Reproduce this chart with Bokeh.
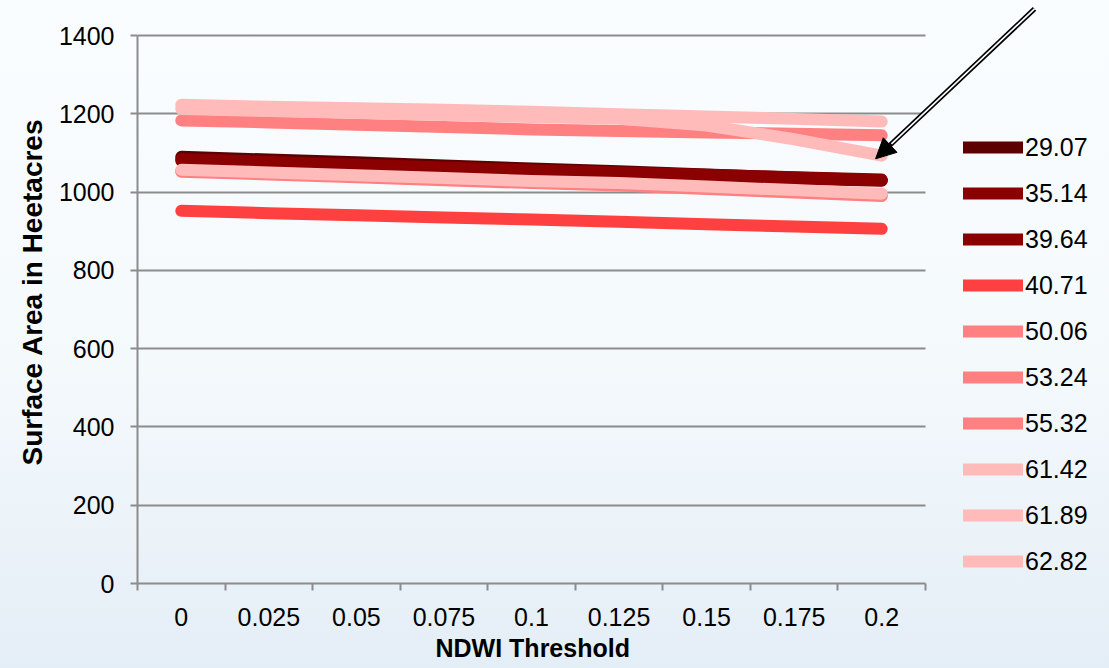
from bokeh.plotting import figure
from bokeh.models import Range1d, FixedTicker, Legend, LegendItem, Arrow, NormalHead, Title
from bokeh.embed import file_html
from bokeh.resources import INLINE

# NDWI threshold categories on the x axis
thresholds = ["0", "0.025", "0.05", "0.075", "0.1", "0.125", "0.15", "0.175", "0.2"]

# series names (legend labels) and their colours
series_names = ["29.07", "35.14", "39.64", "40.71", "50.06",
                "53.24", "55.32", "61.42", "61.89", "62.82"]
series_colors = ["#5c0000", "#8b0000", "#8b0000", "#ff4040", "#ff8080",
                 "#ff8080", "#ff8080", "#ffbaba", "#ffbaba", "#ffbaba"]

# surface area (hectacres) per threshold for each series
s_29_07 = [1090, 1083, 1076, 1068, 1060, 1053, 1045, 1037, 1030]
s_35_14 = [1084, 1077, 1070, 1063, 1056, 1050, 1044, 1038, 1032]
s_39_64 = [1080, 1073, 1066, 1059, 1052, 1046, 1040, 1034, 1029]
s_40_71 = [952, 946, 941, 935, 930, 924, 918, 912, 906]
s_50_06 = [1183, 1178, 1172, 1166, 1160, 1156, 1152, 1149, 1145]
s_53_24 = [1054, 1047, 1040, 1032, 1025, 1019, 1010, 1001, 992]
s_55_32 = [1052, 1045, 1038, 1030, 1023, 1017, 1008, 999, 990]
s_61_42 = [1057, 1050, 1043, 1036, 1028, 1023, 1014, 1005, 996]
s_61_89 = [1212, 1207, 1202, 1197, 1192, 1187, 1170, 1135, 1093]
s_62_82 = [1223, 1218, 1214, 1210, 1205, 1199, 1193, 1187, 1180]

series_values = [s_29_07, s_35_14, s_39_64, s_40_71, s_50_06,
                 s_53_24, s_55_32, s_61_42, s_61_89, s_62_82]

y_ticks = [0, 200, 400, 600, 800, 1000, 1200, 1400]

FONT = "Liberation Sans"
AXIS_GRAY = "#8c8c8c"

xs = list(range(len(thresholds)))
x_lo, x_hi = -0.5, len(thresholds) - 0.5
y_lo, y_hi = y_ticks[0], y_ticks[-1]

# The frame reaches the right and top edges so that the legend and the
# arrow, which sit outside the axes box, are not clipped; axes and grid
# are bounded to the data box instead.
p = figure(width=1109, height=668, output_backend="svg", toolbar_location=None,
           x_range=Range1d(x_lo, x_lo + (x_hi - x_lo) * 972 / 788),
           y_range=Range1d(y_lo, y_lo + (y_hi - y_lo) * 583 / 548),
           min_border_left=137, min_border_right=0,
           min_border_top=0, min_border_bottom=85)
p.background_fill_color = None
p.border_fill_color = None
p.outline_line_color = None

renderers = []
for vals, col in zip(series_values, series_colors):
    r = p.line(xs, vals, line_width=12, line_color=col,
               line_cap="round", line_join="round")
    renderers.append(r)

# x axis: labels centred in each category slot, tick marks between slots
xax = p.xaxis[0]
xax.bounds = (x_lo, x_hi)
xax.ticker = FixedTicker(ticks=xs, minor_ticks=[i - 0.5 for i in range(len(xs) + 1)])
xax.major_label_overrides = {i: t for i, t in enumerate(thresholds)}
xax.major_tick_out = 0
xax.major_tick_in = 0
xax.minor_tick_out = 7
xax.minor_tick_in = 0
xax.minor_tick_line_color = AXIS_GRAY
xax.minor_tick_line_width = 2
xax.axis_line_color = AXIS_GRAY
xax.axis_line_width = 2
xax.major_label_text_font = FONT
xax.major_label_text_font_size = "25px"
xax.major_label_text_color = "black"
xax.major_label_standoff = 17

# x axis title, centred under the bounded axis rather than the wider frame
x_title = Title(text="NDWI Threshold", align="left", offset=298,
                text_font=FONT, text_font_style="bold", text_font_size="25px",
                text_color="black", standoff=7)
p.add_layout(x_title, "below")

yax = p.yaxis[0]
yax.bounds = (y_lo, y_hi)
yax.ticker = FixedTicker(ticks=y_ticks)
yax.major_tick_out = 7
yax.major_tick_in = 0
yax.minor_tick_out = 0
yax.minor_tick_in = 0
yax.major_tick_line_color = AXIS_GRAY
yax.major_tick_line_width = 2
yax.axis_line_color = AXIS_GRAY
yax.axis_line_width = 2
yax.major_label_text_font = FONT
yax.major_label_text_font_size = "25px"
yax.major_label_text_color = "black"
yax.major_label_standoff = 16
yax.axis_label = "Surface Area in Heetacres"
yax.axis_label_text_font = FONT
yax.axis_label_text_font_style = "bold"
yax.axis_label_text_font_size = "28px"
yax.axis_label_text_color = "black"
yax.axis_label_standoff = 8

p.xgrid.visible = False
p.ygrid.grid_line_color = AXIS_GRAY
p.ygrid.grid_line_width = 2
p.ygrid.bounds = (y_lo, y_hi)
p.ygrid.cross_bounds = (x_lo, x_hi)

legend = Legend(
    items=[LegendItem(label=n, renderers=[r]) for n, r in zip(series_names, renderers)],
    location=(826, 7), orientation="vertical",
    glyph_width=60, glyph_height=30, label_height=30, spacing=16,
    padding=0, margin=0, label_standoff=2,
    label_text_font=FONT, label_text_font_size="25px", label_text_color="black",
    border_line_alpha=0, background_fill_alpha=0,
)
p.add_layout(legend)

# annotation arrow pointing at the end of the 61.89 series
tip_x = xs[-1] - 0.07
tip_y = s_61_89[-1] - 8
tail_x = tip_x + 1.815
tail_y = tip_y + 383
p.add_layout(Arrow(x_start=tail_x, y_start=tail_y, x_end=tip_x, y_end=tip_y,
                   line_color="black", line_width=5,
                   end=NormalHead(size=20, fill_color="black", line_color="black")))
inner_x = tip_x + (tail_x - tip_x) * 0.1
inner_y = tip_y + (tail_y - tip_y) * 0.1
p.add_layout(Arrow(x_start=tail_x, y_start=tail_y, x_end=inner_x, y_end=inner_y,
                   line_color="white", line_width=1.6, end=None))

html = file_html(p, INLINE, title="NDWI Threshold vs Surface Area")
style = ("<style>html,body{margin:0;min-height:100vh;"
         "background:linear-gradient(to bottom,#f9fdff 0%,#f4f9fc 55%,#e4eef6 100%);}</style>")
html = html.replace("<head>", "<head>" + style, 1)
open("out.html", "w").write(html)
